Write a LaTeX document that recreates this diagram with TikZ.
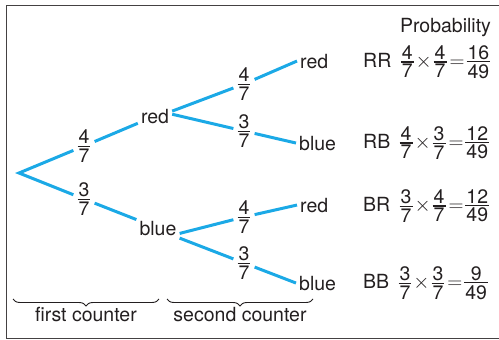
\documentclass[tikz,border=0pt]{standalone}
\usepackage{fontspec}
\setmainfont{TeX Gyre Heros}
\usepackage{tikz}
\usetikzlibrary{positioning,decorations.pathreplacing}
\definecolor{skyline}{HTML}{1BA9E6}
\definecolor{ink}{HTML}{231F20}
\newcommand{\fr}[2]{\ensuremath{\vcenter{\offinterlineskip\halign{\hfil\kern1pt##\kern1pt\hfil\cr#1\cr\noalign{\kern1.8pt\hrule height1.2pt\kern1.8pt}#2\cr}}}}
\newcommand{\prodeq}[3]{$\fr#1\kern2pt{\times}\kern2pt\fr#2\kern3pt{=}\kern2pt\fr#3$}

\begin{document}
\begin{tikzpicture}[x=1pt, y=-1pt,
  txt/.style={font=\fontsize{19.5}{23}\selectfont, text=ink, inner sep=3pt},
  frac/.style={txt, inner xsep=4pt, inner ysep=2pt},
  branch/.style={draw=skyline, line width=3pt},
  brc/.style={draw=ink, line width=0.9pt, decorate, decoration={brace, mirror, amplitude=7pt}}
]
\useasboundingbox (0,0) rectangle (499,340);
\draw[ink!85, line width=1.5pt] (6.5,5.5) rectangle (510,338.5);

\coordinate (o) at (19,173);
\node[frac] (f1) at (84,146) {\fr{4}{7}};
\node[frac] (f2) at (84,199) {\fr{3}{7}};
\node[txt, anchor=base] (r1) at (155,123) {red};
\node[txt, anchor=base] (b1) at (158,235) {blue};

\node[frac] (f3) at (244,84) {\fr{4}{7}};
\node[frac] (f4) at (244,131) {\fr{3}{7}};
\node[frac] (f5) at (244,217) {\fr{4}{7}};
\node[frac] (f6) at (244,263) {\fr{3}{7}};

\node[txt, anchor=base west] (rr) at (297,68) {red};
\node[txt, anchor=base west] (rb) at (296,150) {blue};
\node[txt, anchor=base west] (br) at (297,212) {red};
\node[txt, anchor=base west] (bb) at (296,290) {blue};

\draw[branch] (r1) -- (f1) -- (o) -- (f2) -- (b1);
\draw[branch] (r1.16) -- (f3) -- (rr.west);
\draw[branch] (r1.6) -- (f4) -- (rb.west);
\draw[branch] (b1.-14) -- (f5) -- (br.west);
\draw[branch] (b1.-25) -- (f6) -- (bb.west);

\node[txt, anchor=base] (prob) at (445.5,32) {Probability};
\node[txt, anchor=base west] (lrr) at (360,67) {RR};
\node[txt, anchor=base west] (lrb) at (360,148) {RB};
\node[txt, anchor=base west] (lbr) at (360,211) {BR};
\node[txt, anchor=base west] (lbb) at (360,288) {BB};
\node[txt, base right=3pt of lrr] (prr) {\prodeq{{4}{7}}{{4}{7}}{{16}{49}}};
\node[txt, base right=3pt of lrb] (prb) {\prodeq{{4}{7}}{{3}{7}}{{12}{49}}};
\node[txt, base right=3pt of lbr] (pbr) {\prodeq{{3}{7}}{{4}{7}}{{12}{49}}};
\node[txt, base right=3pt of lbb] (pbb) {\prodeq{{3}{7}}{{3}{7}}{{9}{49}}};

\draw[brc] (13,299) -- (159,299) node[txt, midway, below=5pt] (first) {first counter};
\draw[brc] (167,299) -- (313,299) node[txt, midway, below=5pt] (second) {second counter};
\end{tikzpicture}
\end{document}
